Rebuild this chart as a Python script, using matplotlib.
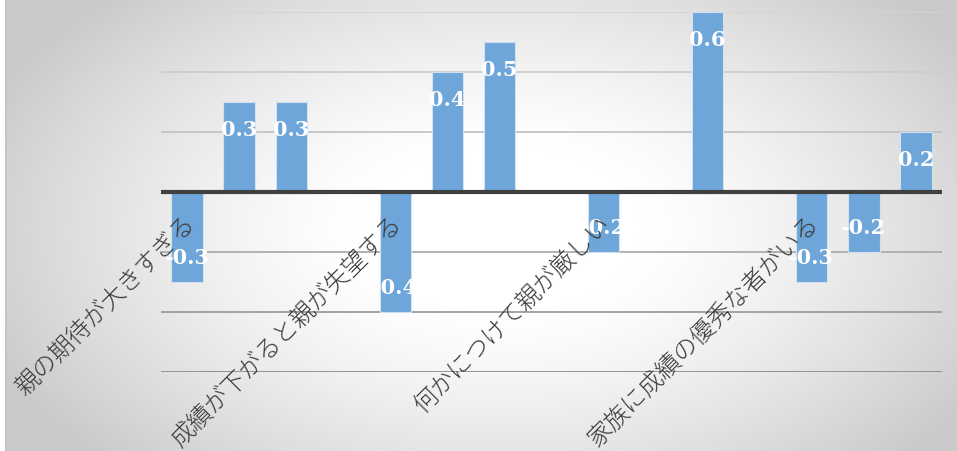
import numpy as np
import matplotlib
matplotlib.use("Agg")
from matplotlib import pyplot as plt

# data
categories = ['親の期待が大きすぎる', '成績が下がると親が失望する',
              '何かにつけて親が厳しい', '家族に成績の優秀な者がいる']
series1 = [-0.3, -0.4, -0.2, -0.3]
series2 = [0.3, 0.4, np.nan, -0.2]
series3 = [0.3, 0.5, 0.6, 0.2]
yticks = [-0.6, -0.4, -0.2, 0.0, 0.2, 0.4, 0.6]

W, H, DPI = 957, 452, 100
fig = plt.figure(figsize=(W / DPI, H / DPI), dpi=DPI)

# radial gradient background
yy, xx = np.mgrid[0:H, 0:W]
d = np.sqrt(((xx - 500) / 560.0) ** 2 + ((yy - 230) / 330.0) ** 2)
d = np.clip((d - 0.25) / 0.75, 0, 1)
g = 1.0 - 0.21 * d ** 1.3
img = np.dstack([g, g, g])
img[:, 0:5] = 1.0
img[:, 5:7] = 0.78
bg = fig.add_axes([0, 0, 1, 1], zorder=0)
bg.imshow(img, aspect='auto', interpolation='bilinear')
bg.axis('off')

ax = fig.add_axes([161 / W, (H - 372.5) / H, (942 - 161) / W, 360 / H], zorder=1)
ax.patch.set_alpha(0)

grid_cols = {-0.6: '#8c8c8c', -0.4: '#9c9c9c', -0.2: '#acacac',
             0.2: '#c4c4c4', 0.4: '#cdcdcd', 0.6: '#d4d4d4'}
for t in yticks:
    if t != 0:
        ax.axhline(t, color=grid_cols[round(t, 1)], lw=1.3, zorder=1)

bar_col = '#6fa6d9'
for i, s in enumerate([series1, series2, series3]):
    xs = np.arange(len(categories)) * 4 + i
    vals = np.array(s, dtype=float)
    ok = ~np.isnan(vals)
    ax.bar(xs[ok], vals[ok], width=0.6, color=bar_col,
           edgecolor='#cfe0f1', linewidth=0.8, zorder=2)
    for x, v in zip(xs[ok], vals[ok]):
        off = -27 if v > 0 else 25
        ax.annotate(f'{v:.1f}', (x, v), xytext=(0, off), textcoords='offset pixels',
                    ha='center', va='center', color='white', fontsize=15,
                    fontweight='bold', family='DejaVu Serif', zorder=4)

ax.axhline(0, color='#404040', lw=3, zorder=3)

for k, lab in enumerate(categories):
    ax.annotate(lab, (k * 4, 0), xytext=(-5, -19), textcoords='offset pixels',
                rotation=45, rotation_mode='anchor', ha='right', va='top',
                fontsize=17.5, color='#383838', zorder=5,
                family=['Noto Sans CJK JP', 'DejaVu Sans'], fontweight='light')

ax.set_xlim(-0.5, 14.5)
ax.set_ylim(-0.6, 0.6)
ax.set_xticks([])
ax.set_yticks([])
for sp in ax.spines.values():
    sp.set_visible(False)

fig.savefig('out.png', dpi=DPI)
